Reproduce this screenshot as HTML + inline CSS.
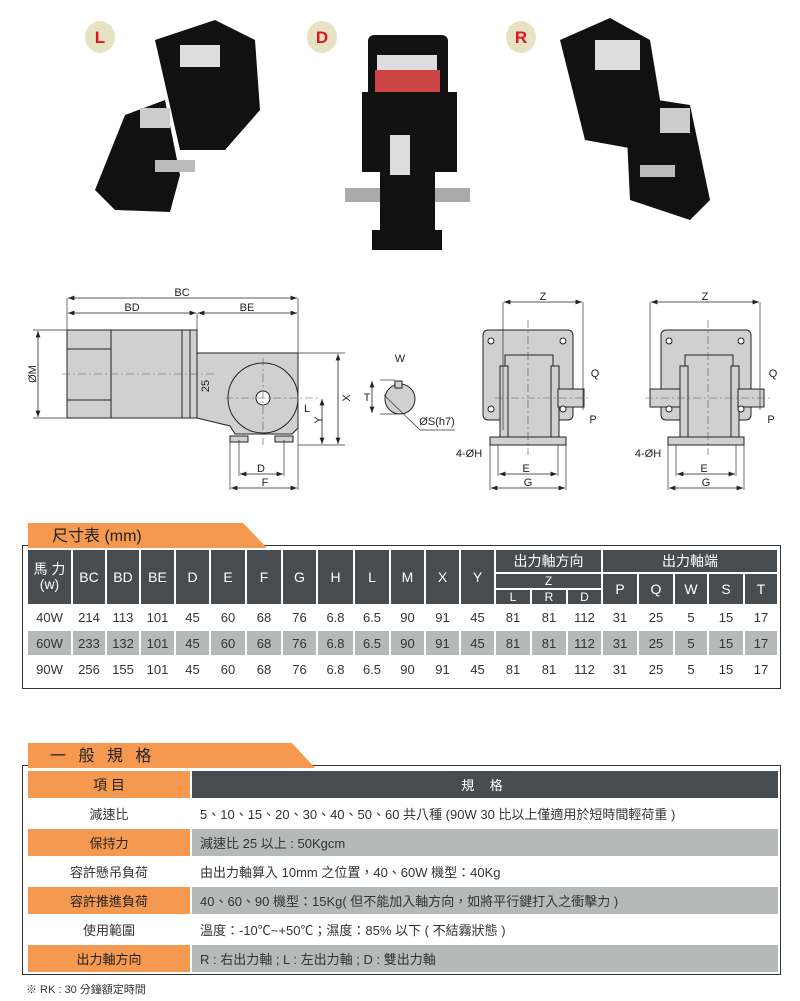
<!DOCTYPE html>
<html><head><meta charset="utf-8"><style>
body{margin:0;width:800px;height:1001px;background:#fff;position:relative;overflow:hidden;font-family:"Liberation Sans","Noto Sans CJK TC",sans-serif;color:#333}
.abs{position:absolute}
table{border-collapse:separate;border-spacing:2px;table-layout:fixed;position:absolute}
td{padding:0;text-align:center;font-size:13px;overflow:hidden;white-space:nowrap}
.h{background:#474c50;color:#fff;font-size:14px}
.g td{background:#b5b9b8}
.w td{background:#fff}
.tab{position:absolute;background:#f4994f;height:25px;font-size:16px;color:#222;line-height:27px}
.box{position:absolute;border:1.5px solid #333}
.o{background:#f4994f!important;color:#222}
.t2 td{font-size:13px}
.t2 td.l{text-align:left;padding-left:8px}
</style></head><body>

<svg class="abs" style="left:0;top:0" width="800" height="500" viewBox="0 0 800 500">
<defs><marker id="a" markerWidth="8" markerHeight="6" refX="8" refY="3" orient="auto-start-reverse"><path d="M0,0L8,3L0,6z" fill="#222"/></marker></defs>
<!-- badges -->
<g font-family="Liberation Sans" font-weight="bold" font-size="17" fill="#e0141a" text-anchor="middle">
<ellipse cx="100" cy="37" rx="15" ry="16" fill="#e8e2c4"/><text x="100" y="43">L</text>
<ellipse cx="322" cy="37" rx="15" ry="16" fill="#e8e2c4"/><text x="322" y="43">D</text>
<ellipse cx="521" cy="37" rx="15" ry="16" fill="#e8e2c4"/><text x="521" y="43">R</text>
</g>
<!-- L photo -->
<g fill="#111">
<polygon points="155,40 215,20 255,40 260,110 225,150 180,150"/>
<polygon points="125,115 165,100 180,175 170,212 115,210 95,190"/>
<rect x="180" y="45" width="40" height="22" fill="#ddd"/>
<rect x="140" y="108" width="30" height="20" fill="#ccc"/>
<rect x="155" y="160" width="40" height="12" fill="#bbb"/>
<!-- D photo -->
<rect x="368" y="35" width="80" height="65" rx="6"/>
<rect x="375" y="70" width="65" height="22" fill="#c44"/>
<rect x="377" y="55" width="60" height="15" fill="#ddd"/>
<rect x="362" y="92" width="95" height="80"/>
<rect x="380" y="110" width="55" height="140"/>
<rect x="345" y="188" width="125" height="14" fill="#aaa"/>
<rect x="380" y="110" width="55" height="140"/>
<rect x="390" y="135" width="20" height="40" fill="#ddd"/>
<rect x="372" y="230" width="70" height="20"/>
<!-- R photo -->
<polygon points="560,40 610,18 650,40 660,100 640,150 585,140"/>
<polygon points="625,95 690,105 710,200 690,220 630,200"/>
<rect x="595" y="40" width="45" height="30" fill="#ddd"/>
<rect x="660" y="108" width="30" height="25" fill="#ccc"/>
<rect x="640" y="165" width="35" height="12" fill="#bbb"/>
</g>

<g stroke="#222" stroke-width="1" fill="#d0d0d0">
<!-- left drawing -->
<rect x="67" y="330" width="130" height="88"/>
<line x1="111" y1="330" x2="111" y2="418"/>
<line x1="67" y1="349" x2="111" y2="349"/><line x1="67" y1="400" x2="111" y2="400"/>
<line x1="182" y1="330" x2="182" y2="418"/><line x1="190" y1="330" x2="190" y2="418"/>
<polygon points="197,353 298,353 298,428 292,434 235,434 230,426 197,418"/>
<circle cx="263" cy="398" r="35"/>
<circle cx="263" cy="398" r="7" fill="#fff"/>
<rect x="230" y="436" width="18" height="6"/><rect x="275" y="436" width="18" height="6"/>
<!-- middle -->
<rect x="483" y="330" width="90" height="90" rx="5"/>
<rect x="505" y="355" width="48" height="85"/>
<rect x="500" y="366" width="8" height="72"/><rect x="551" y="366" width="8" height="72"/>
<rect x="558" y="389" width="26" height="18"/>
<rect x="490" y="437" width="76" height="8"/>
<!-- right -->
<rect x="661" y="330" width="90" height="90" rx="5"/>
<rect x="685" y="355" width="48" height="85"/>
<rect x="680" y="366" width="8" height="72"/><rect x="731" y="366" width="8" height="72"/>
<rect x="650" y="389" width="30" height="18"/><rect x="738" y="389" width="26" height="18"/>
<rect x="668" y="437" width="76" height="8"/>
<!-- key -->
<circle cx="400" cy="399" r="15"/>
<rect x="395" y="381" width="7" height="7"/>
</g>
<g fill="#fff" stroke="#222"><circle cx="491" cy="341" r="3"/><circle cx="563" cy="341" r="3"/><circle cx="491" cy="409" r="3"/><circle cx="563" cy="409" r="3"/>
<circle cx="669" cy="341" r="3"/><circle cx="741" cy="341" r="3"/><circle cx="669" cy="409" r="3"/><circle cx="741" cy="409" r="3"/></g>

<g stroke="#333" stroke-width="0.7" fill="none">
<line x1="67" y1="298" x2="67" y2="330"/><line x1="298" y1="298" x2="298" y2="490"/><line x1="197" y1="313" x2="197" y2="330"/>
<line x1="33" y1="330" x2="67" y2="330"/><line x1="33" y1="418" x2="67" y2="418"/>
<line x1="298" y1="353" x2="345" y2="353"/><line x1="298" y1="445" x2="345" y2="445"/>
<line x1="230" y1="440" x2="230" y2="490"/><line x1="239" y1="440" x2="239" y2="476"/><line x1="284" y1="440" x2="284" y2="476"/>
<line x1="503" y1="302" x2="503" y2="430"/><line x1="583" y1="302" x2="583" y2="410"/>
<line x1="650" y1="302" x2="650" y2="390"/><line x1="760" y1="302" x2="760" y2="410"/>
<line x1="490" y1="445" x2="490" y2="490"/><line x1="566" y1="445" x2="566" y2="490"/>
<line x1="498" y1="445" x2="498" y2="476"/><line x1="558" y1="445" x2="558" y2="476"/>
<line x1="668" y1="445" x2="668" y2="490"/><line x1="744" y1="445" x2="744" y2="490"/>
<line x1="676" y1="445" x2="676" y2="476"/><line x1="736" y1="445" x2="736" y2="476"/>
<line x1="380" y1="380" x2="395" y2="380"/><line x1="380" y1="414" x2="400" y2="414"/>
<line x1="384" y1="395" x2="420" y2="430"/><line x1="420" y1="430" x2="455" y2="430"/>
</g>
<g stroke="#222" stroke-width="0.8" marker-start="url(#a)" marker-end="url(#a)">
<line x1="68" y1="298" x2="297" y2="298"/><line x1="68" y1="313" x2="196" y2="313"/><line x1="198" y1="313" x2="297" y2="313"/>
<line x1="38" y1="331" x2="38" y2="417"/><line x1="338" y1="354" x2="338" y2="444"/><line x1="322" y1="399" x2="322" y2="444"/>
<line x1="240" y1="474" x2="283" y2="474"/><line x1="231" y1="488" x2="297" y2="488"/>
<line x1="504" y1="302" x2="582" y2="302"/><line x1="651" y1="302" x2="759" y2="302"/>
<line x1="499" y1="474" x2="557" y2="474"/><line x1="491" y1="488" x2="565" y2="488"/>
<line x1="677" y1="474" x2="735" y2="474"/><line x1="669" y1="488" x2="743" y2="488"/>
<line x1="372" y1="381" x2="372" y2="413"/>
</g>
<g stroke="#555" stroke-width="0.6" stroke-dasharray="8,3,2,3"><line x1="62" y1="374" x2="215" y2="374"/><line x1="225" y1="398" x2="320" y2="398"/><line x1="263" y1="358" x2="263" y2="445"/>
<line x1="528" y1="320" x2="528" y2="455"/><line x1="708" y1="320" x2="708" y2="455"/><line x1="495" y1="398" x2="590" y2="398"/><line x1="645" y1="398" x2="770" y2="398"/></g>
<g font-family="Liberation Sans" font-size="11" fill="#222" text-anchor="middle">
<text x="182" y="296">BC</text><text x="132" y="311">BD</text><text x="247" y="311">BE</text>
<text x="34" y="376" transform="rotate(-90 34 374)">ØM</text><text x="209" y="386" transform="rotate(-90 209 386)">25</text>
<text x="346" y="402" transform="rotate(-90 346 398)">X</text><text x="318" y="424" transform="rotate(-90 318 420)">Y</text>
<text x="307" y="412">L</text><text x="261" y="472">D</text><text x="265" y="486">F</text>
<text x="400" y="362">W</text><text x="367" y="401">T</text><text x="437" y="425">ØS(h7)</text>
<text x="543" y="300">Z</text><text x="705" y="300">Z</text>
<text x="595" y="377">Q</text><text x="593" y="423">P</text><text x="773" y="377">Q</text><text x="771" y="423">P</text>
<text x="469" y="457">4-ØH</text><text x="648" y="457">4-ØH</text>
<text x="526" y="472">E</text><text x="528" y="486">G</text><text x="704" y="472">E</text><text x="706" y="486">G</text>
</g>
</svg>

<!-- Table 1 -->
<div class="box" style="left:22px;top:545px;width:757px;height:142px"></div>
<div class="tab" style="left:28px;top:523px;width:215px;padding-left:24px;clip-path:polygon(0 0,90% 0,100% 100%,0 100%)">尺寸表 (mm)</div>
<table style="left:26px;top:548px">
<colgroup><col style="width:43px"><col style="width:32px"><col style="width:32px"><col style="width:33px"><col style="width:33px"><col style="width:34px"><col style="width:34px"><col style="width:33px"><col style="width:35px"><col style="width:34px"><col style="width:33px"><col style="width:33px"><col style="width:33px"><col style="width:34px"><col style="width:34px"><col style="width:33px"><col style="width:34px"><col style="width:34px"><col style="width:32px"><col style="width:34px"><col style="width:32px"></colgroup>
<tr style="height:22px"><td class="h" rowspan="3" style="line-height:15px">馬 力<br>(w)</td><td class="h" rowspan="3">BC</td><td class="h" rowspan="3">BD</td><td class="h" rowspan="3">BE</td><td class="h" rowspan="3">D</td><td class="h" rowspan="3">E</td><td class="h" rowspan="3">F</td><td class="h" rowspan="3">G</td><td class="h" rowspan="3">H</td><td class="h" rowspan="3">L</td><td class="h" rowspan="3">M</td><td class="h" rowspan="3">X</td><td class="h" rowspan="3">Y</td><td class="h" colspan="3">出力軸方向</td><td class="h" colspan="5">出力軸端</td></tr>
<tr style="height:14px"><td class="h" colspan="3" style="font-size:12px">Z</td><td class="h" rowspan="2">P</td><td class="h" rowspan="2">Q</td><td class="h" rowspan="2">W</td><td class="h" rowspan="2">S</td><td class="h" rowspan="2">T</td></tr>
<tr style="height:13px"><td class="h" style="font-size:12px">L</td><td class="h" style="font-size:12px">R</td><td class="h" style="font-size:12px">D</td></tr>
<tr class="w" style="height:23px"><td>40W</td><td>214</td><td>113</td><td>101</td><td>45</td><td>60</td><td>68</td><td>76</td><td>6.8</td><td>6.5</td><td>90</td><td>91</td><td>45</td><td>81</td><td>81</td><td>112</td><td>31</td><td>25</td><td>5</td><td>15</td><td>17</td></tr>
<tr class="g" style="height:24px"><td>60W</td><td>233</td><td>132</td><td>101</td><td>45</td><td>60</td><td>68</td><td>76</td><td>6.8</td><td>6.5</td><td>90</td><td>91</td><td>45</td><td>81</td><td>81</td><td>112</td><td>31</td><td>25</td><td>5</td><td>15</td><td>17</td></tr>
<tr class="w" style="height:24px"><td>90W</td><td>256</td><td>155</td><td>101</td><td>45</td><td>60</td><td>68</td><td>76</td><td>6.8</td><td>6.5</td><td>90</td><td>91</td><td>45</td><td>81</td><td>81</td><td>112</td><td>31</td><td>25</td><td>5</td><td>15</td><td>17</td></tr>
</table>

<!-- Table 2 -->
<div class="box" style="left:22px;top:765px;width:757px;height:208px"></div>
<div class="tab" style="left:28px;top:743px;width:265px;padding-left:22px;letter-spacing:4px;clip-path:polygon(0 0,92% 0,100% 100%,0 100%)">一 般 規 格</div>
<table class="t2" style="left:26px;top:769px">
<colgroup><col style="width:162px"><col style="width:586px"></colgroup>
<tr style="height:27px"><td class="o" style="font-size:14px">項 目</td><td class="h" style="letter-spacing:6px">規 格</td></tr>
<tr class="w" style="height:27px"><td>減速比</td><td class="l">5、10、15、20、30、40、50、60 共八種 (90W 30 比以上僅適用於短時間輕荷重 )</td></tr>
<tr class="g" style="height:27px"><td class="o">保持力</td><td class="l">減速比 25 以上 : 50Kgcm</td></tr>
<tr class="w" style="height:27px"><td>容許懸吊負荷</td><td class="l">由出力軸算入 10mm 之位置，40、60W 機型：40Kg</td></tr>
<tr class="g" style="height:27px"><td class="o">容許推進負荷</td><td class="l">40、60、90 機型：15Kg( 但不能加入軸方向，如將平行鍵打入之衝擊力 )</td></tr>
<tr class="w" style="height:27px"><td>使用範圍</td><td class="l">溫度：-10℃~+50℃；濕度：85% 以下 ( 不結霧狀態 )</td></tr>
<tr class="g" style="height:27px"><td class="o">出力軸方向</td><td class="l">R : 右出力軸 ; L : 左出力軸 ; D : 雙出力軸</td></tr>
</table>
<div class="abs" style="left:26px;top:981px;font-size:11px">※ RK : 30 分鐘額定時間</div>
</body></html>
